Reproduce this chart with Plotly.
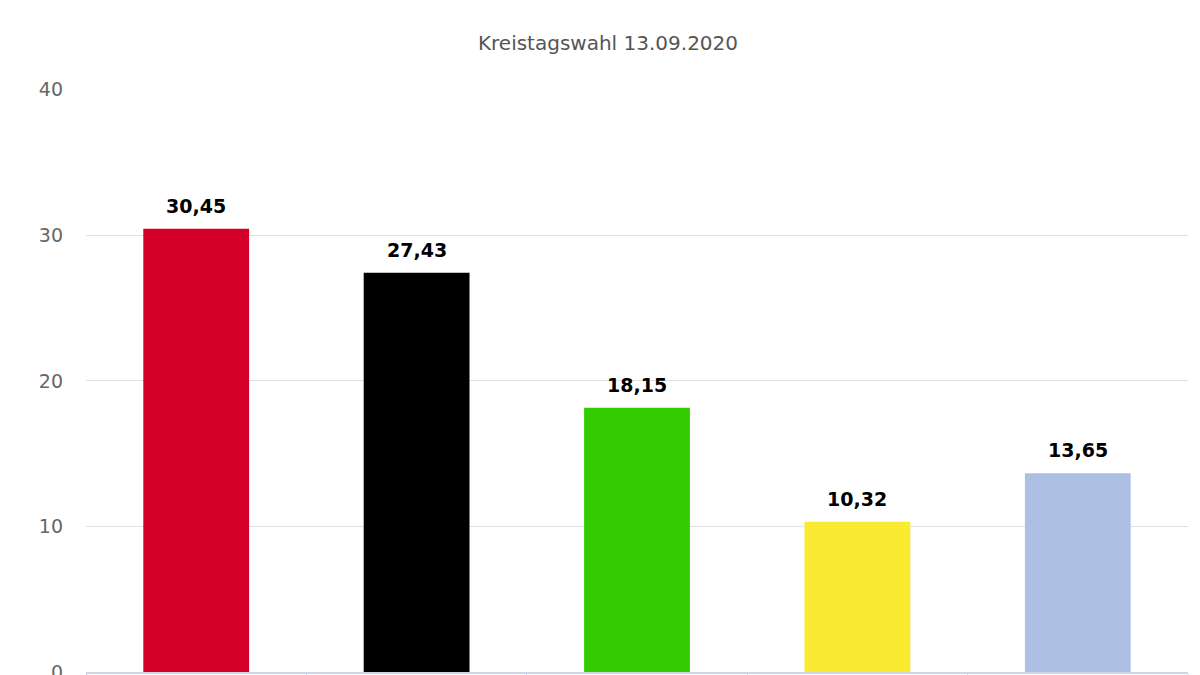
import plotly.graph_objects as go

parties = ["SPD", "CDU", "Grüne", "Gelb", "Sonstige"]
shares = [30.45, 27.43, 18.15, 10.32, 13.65]
colors = ["#d50029", "#000000", "#33cc00", "#f9eb31", "#adbfe3"]
labels = [f"{v:.2f}".replace(".", ",") for v in shares]

fig = go.Figure(go.Bar(
    x=parties, y=shares, marker_color=colors, marker_line_width=0,
    width=0.48,
))

for p, v, lab in zip(parties, shares, labels):
    fig.add_annotation(x=p, y=v, text=f"<b>{lab}</b>", showarrow=False,
                       yanchor="bottom", yshift=10,
                       font=dict(family="DejaVu Sans", size=19, color="#000000"))

fig.update_layout(
    width=1200, height=675,
    margin=dict(l=78, r=20, t=81, b=11, autoexpand=False),
    plot_bgcolor="white", paper_bgcolor="white",
    title=dict(text="Kreistagswahl 13.09.2020", x=0.5, xanchor="center",
               y=0.948, yref="container", yanchor="middle",
               font=dict(family="DejaVu Sans", size=20, color="#555555")),
    showlegend=False,
)
fig.update_yaxes(range=[0, 40.05], tickvals=[0, 10, 20, 30, 40], gridcolor="#e0e0e6", gridwidth=1,
                 zeroline=False, ticklabelstandoff=22, automargin=False,
                 tickfont=dict(family="DejaVu Sans", size=19, color="#666666"))
fig.update_xaxes(showticklabels=False, showline=True, linecolor="#ccd6eb", linewidth=2,
                 ticks="outside", tickson="boundaries", tickcolor="#ccd6eb", ticklen=12,
                 automargin=False)

fig.write_html("out.html")
